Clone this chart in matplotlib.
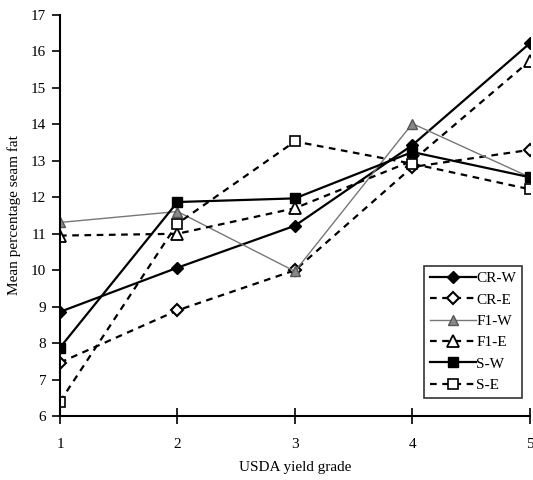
import matplotlib
matplotlib.use("Agg")
import matplotlib.pyplot as plt

grades = [1, 2, 3, 4, 5]
cr_w = [8.86, 10.07, 11.22, 13.43, 16.22]
cr_e = [7.47, 8.9, 10.0, 12.83, 13.3]
f1_w = [11.31, 11.61, 9.97, 14.02, 12.55]
f1_e = [10.95, 11.0, 11.7, 13.0, 15.74]
s_w = [7.88, 11.87, 11.97, 13.24, 12.55]
s_e = [6.4, 11.28, 13.53, 12.92, 12.22]
labels = ["CR-W", "CR-E", "F1-W", "F1-E", "S-W", "S-E"]

plt.rcParams['font.family'] = ['Liberation Serif', 'DejaVu Serif']

fig = plt.figure(figsize=(5.33, 4.8), dpi=100)
ax = fig.add_axes([0.1126, 0.133, 0.8814, 0.836])

ms = 7
ax.plot(grades, cr_w, color='black', lw=1.6, marker='D', ms=ms-1, mfc='black', mec='black', label=labels[0])
ax.plot(grades, cr_e, color='black', lw=1.6, ls=(0, (3, 2.5)), marker='D', ms=ms-1, mfc='white', mec='black', mew=1.5, label=labels[1])
ax.plot(grades, f1_w, color='#777777', lw=1.0, marker='^', ms=ms, mfc='#888888', mec='#555555', label=labels[2])
ax.plot(grades, f1_e, color='black', lw=1.6, ls=(0, (3, 2.5)), marker='^', ms=ms+1, mfc='white', mec='black', mew=1.3, label=labels[3])
ax.plot(grades, s_w, color='black', lw=1.6, marker='s', ms=ms, mfc='black', mec='black', label=labels[4])
ax.plot(grades, s_e, color='black', lw=1.6, ls=(0, (3, 2.5)), marker='s', ms=ms, mfc='white', mec='black', mew=1.2, label=labels[5])

ax.set_xlim(1, 5)
ax.set_ylim(6, 17)
ax.set_xticks(grades)
ax.set_yticks(range(6, 18))
ax.spines['top'].set_visible(False)
ax.spines['right'].set_visible(False)
ax.spines['left'].set_linewidth(1.5)
ax.spines['bottom'].set_linewidth(1.5)
ax.tick_params(axis='y', direction='out', length=6, width=1.2, labelsize=11, pad=4)
ax.tick_params(axis='x', direction='inout', length=12, width=1.2, labelsize=11, pad=10)
for sp in ax.spines.values():
    sp.set_clip_on(False)

ax.set_xlabel("USDA yield grade", fontsize=11, labelpad=7)
ax.set_ylabel("Mean percentage seam fat", fontsize=11, labelpad=7)

leg = ax.legend(loc='lower left', bbox_to_anchor=(0.775, 0.045), fontsize=11,
                frameon=True, fancybox=False, edgecolor='black', handlelength=3.0,
                handletextpad=0.0, borderpad=0.4, labelspacing=0.5, borderaxespad=0,
                markerscale=1.0)
leg.get_frame().set_linewidth(1.2)

fig.savefig("out.png", dpi=100)
